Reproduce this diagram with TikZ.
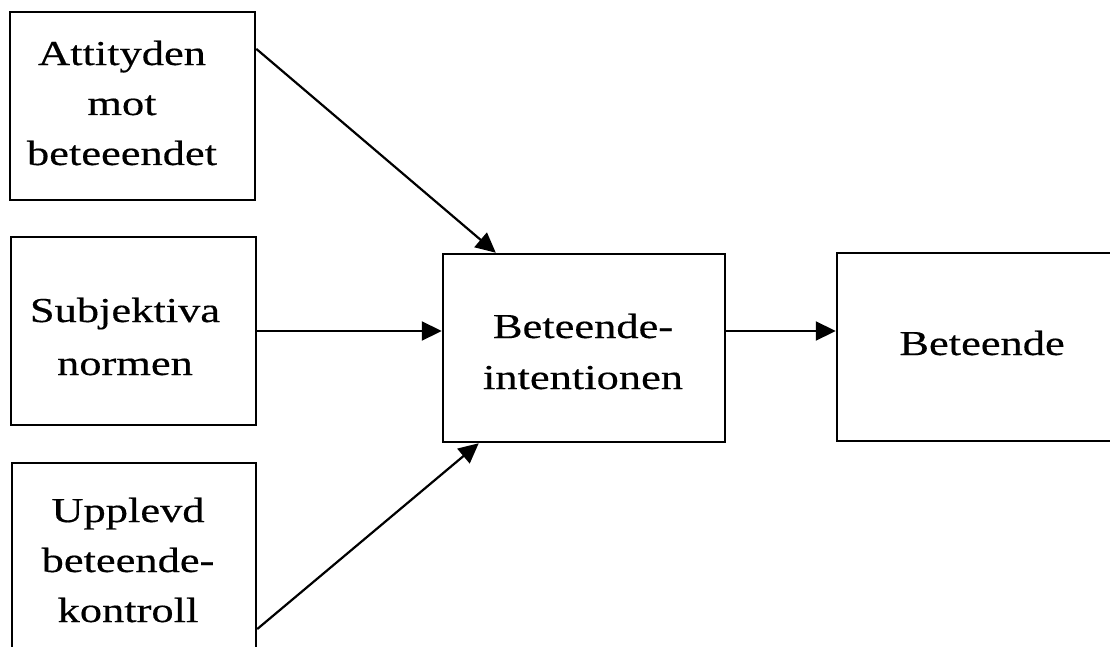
\documentclass[tikz,border=0pt]{standalone}
\usepackage{fontspec}
\setmainfont[FakeStretch=1.27,FakeBold=0.4]{Liberation Serif}
\usetikzlibrary{arrows.meta,calc}
\begin{document}
\begin{tikzpicture}[x=1pt,y=-1pt,
  box/.style={draw, line width=2.5pt, rectangle, inner sep=0pt},
  lbl/.style={align=center, inner sep=0pt, anchor=base, font=\fontsize{35}{50}\selectfont},
  arr/.style={line width=2.2pt, -{Triangle[length=20pt,width=19pt]}}]
\useasboundingbox (0,0) rectangle (1110,647);
\clip (0,0) rectangle (1110,647);
\fill[white] (0,0) rectangle (1110,647);
% boxes
\node[box, minimum width=245pt, minimum height=188pt] (b1) at (132.5,106) {};
\node[box, minimum width=245pt, minimum height=188pt] (b2) at (133.5,331) {};
\node[box, minimum width=244pt, minimum height=192pt] (b3) at (134,559) {};
\node[box, minimum width=282pt, minimum height=188pt] (m) at (584,348) {};
\node[box, minimum width=283pt, minimum height=188pt] (r) at (978.5,347) {};
% labels (anchor base = baseline of the last line)
\node[lbl] (t1) at (122,165) {Attityden\\mot\\beteeendet};
\node[lbl, font=\fontsize{35}{53}\selectfont] (t2) at (125,375) {Subjektiva\\normen};
\node[lbl] (t3) at (128,622) {Upplevd\\beteende-\\kontroll};
\node[lbl, font=\fontsize{35}{51}\selectfont] (tm) at (583,389) {Beteende-\\intentionen};
\node[lbl] (tr) at (982,355) {Beteende};
% arrows
\draw[arr] ($(b1.north east)!0.2!(b1.south east)$) -- ($(m.north west)!0.19!(m.north east)$);
\draw[arr] (b2.east) -- (m.west |- b2.east);
\draw[arr] ($(b3.north east)!0.86!(b3.south east)$) -- ($(m.south west)!0.13!(m.south east)$);
\draw[arr] (m.east |- b2.east) -- (r.west |- b2.east);
\end{tikzpicture}
\end{document}
